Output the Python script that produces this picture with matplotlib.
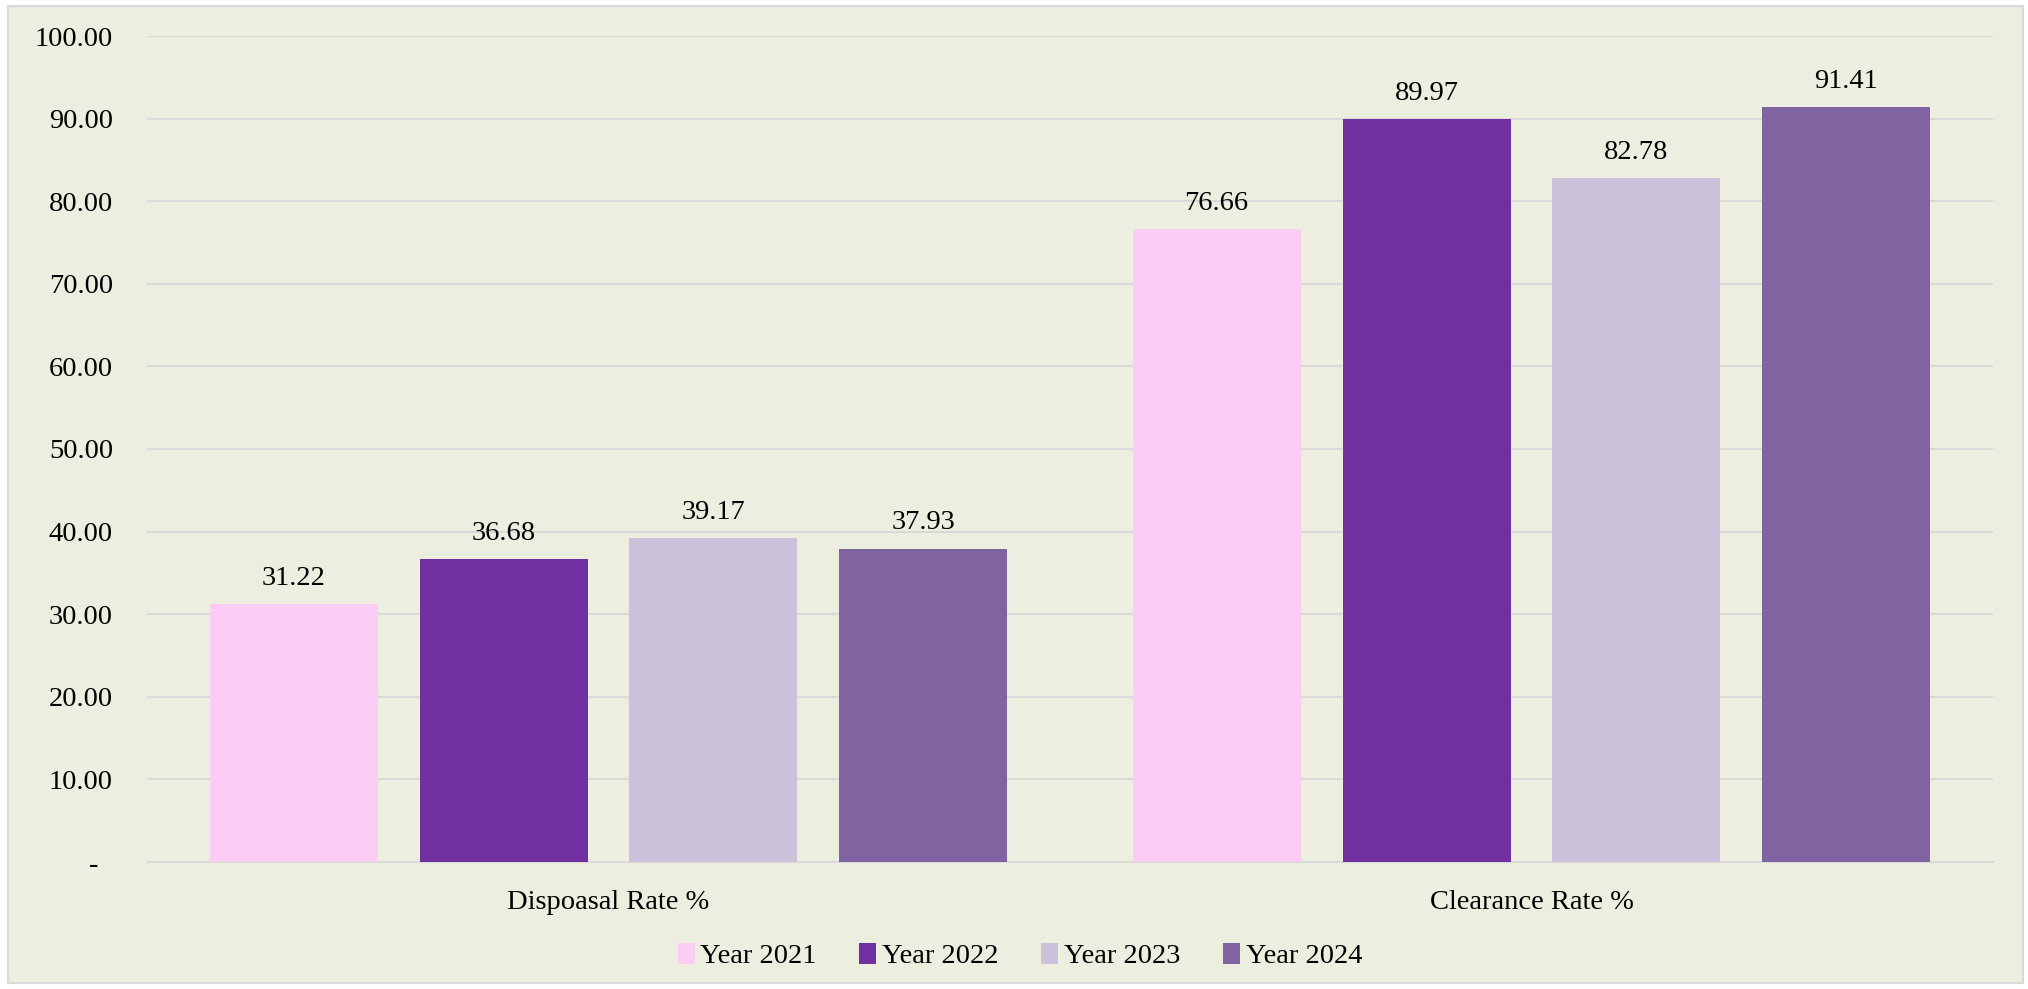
import matplotlib
matplotlib.use("Agg")
import matplotlib.pyplot as plt
import numpy as np
from matplotlib.patches import Rectangle

categories = ["Dispoasal Rate %", "Clearance Rate %"]
years = ["Year 2021", "Year 2022", "Year 2023", "Year 2024"]
values = {
    "Year 2021": [31.22, 76.66],
    "Year 2022": [36.68, 89.97],
    "Year 2023": [39.17, 82.78],
    "Year 2024": [37.93, 91.41],
}
colors = ["#FDCCF4", "#7030A0", "#CBC1DA", "#8064A2"]
y_ticks = [0, 10, 20, 30, 40, 50, 60, 70, 80, 90, 100]

plt.rcParams["font.family"] = ["Liberation Serif", "DejaVu Serif"]
bg = "#ECEFDF"
fs = 20.5

fig = plt.figure(figsize=(20.28, 9.89), dpi=100, facecolor="white")
fig.patches.append(Rectangle((8 / 2028, 6 / 989), 2015 / 2028, 977 / 989,
                             transform=fig.transFigure, facecolor=bg,
                             edgecolor="#D9D9D9", linewidth=1.5, zorder=-10))

ax = fig.add_axes([147 / 2028, 1 - 862 / 989, 1846 / 2028, 826 / 989])
ax.set_facecolor("none")

x = np.arange(len(categories))
step = 0.2275
width = 0.182
for i, (year, color) in enumerate(zip(years, colors)):
    pos = x + (i - 1.5) * step
    bars = ax.bar(pos, values[year], width=width, color=color, label=year, zorder=3)
    for b, v in zip(bars, values[year]):
        ax.text(b.get_x() + b.get_width() / 2, v + 1.6, "{:.2f}".format(v),
                ha="center", va="bottom", fontsize=fs, color="black")

ax.set_xlim(-0.5, 1.5)
ax.set_ylim(0, 100)
ax.set_yticks(y_ticks)
# accounting-style format: zero shown as a dash, indented a bit
ax.set_yticklabels(["-  " if t == 0 else "{:.2f}".format(t) for t in y_ticks])
ax.grid(axis="y", color="#D9D9D9", linewidth=1.5, zorder=0)
ax.set_xticks(x)
ax.set_xticklabels(categories)
ax.tick_params(axis="both", length=0, labelsize=fs, colors="black")
ax.tick_params(axis="y", pad=24.5)
ax.tick_params(axis="x", pad=20)
for side in ["top", "right", "left"]:
    ax.spines[side].set_visible(False)
ax.spines["bottom"].set_color("#D9D9D9")
ax.spines["bottom"].set_linewidth(1.5)

leg = fig.legend(loc="center", bbox_to_anchor=(1020 / 2028, 1 - 956 / 989), ncol=4,
                 frameon=False, fontsize=fs, handlelength=0.6, handleheight=0.8,
                 handletextpad=0.2, columnspacing=1.5)

fig.savefig("out.png", dpi=100, facecolor="white")
